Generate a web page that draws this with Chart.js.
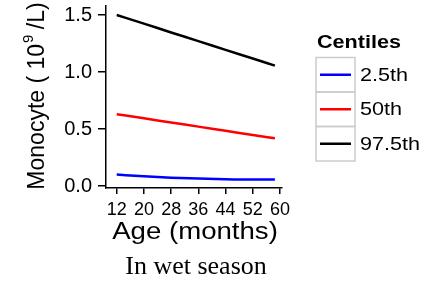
<!DOCTYPE html>
<html>
<head>
<meta charset="utf-8">
<script src="https://cdn.jsdelivr.net/npm/chart.js@4"></script>
<style>
  body { margin: 0; background: #fff; }
  #wrap { width: 441px; height: 294px; }
</style>
</head>
<body>
<div id="wrap"><canvas id="myChart" width="441" height="294"></canvas></div>
<script>
// values
const ages = [12, 20, 28, 36, 44, 52, 58.5];
const p025 = [0.10, 0.085, 0.073, 0.065, 0.059, 0.056, 0.056];
const p50 = [0.63, 0.594, 0.557, 0.521, 0.484, 0.448, 0.418];
const p975 = [1.50, 1.424, 1.347, 1.271, 1.194, 1.118, 1.056];
const seriesNames = ['2.5th', '50th', '97.5th'];
const seriesColors = ['#0000ff', '#ff0000', '#000000'];
const xTicks = [12, 20, 28, 36, 44, 52, 60];
const yTicks = [0, 0.5, 1, 1.5];

const SANS = '"Liberation Sans", Arial, sans-serif';
const toPts = (vals) => vals.map((v, i) => ({ x: ages[i], y: v }));

// stretched text helper (source picture is a bit wide)
function wideText(ctx, txt, x, y, font, align, sx) {
    ctx.save();
    ctx.font = font;
    ctx.textBaseline = 'middle';
    const w = ctx.measureText(txt).width * sx;
    let left = x;
    if (align === 'center') left = x - w / 2;
    ctx.translate(left, y);
    ctx.scale(sx, 1);
    ctx.textAlign = 'left';
    ctx.fillText(txt, 0, 0);
    ctx.restore();
}

const decor = {
    id: 'decor',
    afterDraw(chart) {
        const ctx = chart.ctx;
        ctx.save();
        ctx.fillStyle = '#000';
        // y title with superscript
        ctx.save();
        ctx.translate(38, 96);
        ctx.rotate(-Math.PI / 2);
        ctx.textBaseline = 'middle';
        const f = '23px ' + SANS, fs = '15px ' + SANS;
        const p1 = 'Monocyte ( 10', p2 = '9', p3 = ' /L)';
        ctx.font = f; const w1 = ctx.measureText(p1).width, w3 = ctx.measureText(p3).width;
        ctx.font = fs; const w2 = ctx.measureText(p2).width;
        let x0 = -(w1 + w2 + w3) / 2;
        ctx.font = f; ctx.fillText(p1, x0, 0);
        ctx.font = fs; ctx.fillText(p2, x0 + w1 + 1, -9);
        ctx.font = f; ctx.fillText(p3, x0 + w1 + w2, 0);
        ctx.restore();

        // x title and caption
        wideText(ctx, 'Age (months)', 195, 233, '23px ' + SANS, 'center', 1.2);
        ctx.font = '26px "Liberation Serif", "Times New Roman", serif';
        ctx.textAlign = 'center';
        ctx.textBaseline = 'middle';
        ctx.fillText('In wet season', 196, 267);

        // legend
        wideText(ctx, 'Centiles', 317, 43, 'bold 18px ' + SANS, 'left', 1.2);
        const bx = 316, bw = 39, by = 57.5, bh = 34.5;
        seriesNames.forEach((nm, i) => {
            const y = by + i * bh;
            ctx.strokeStyle = '#cccccc';
            ctx.lineWidth = 1.5;
            ctx.strokeRect(bx, y, bw, bh);
            ctx.strokeStyle = seriesColors[i];
            ctx.lineWidth = 2.5;
            ctx.beginPath();
            ctx.moveTo(bx + 4, y + bh / 2);
            ctx.lineTo(bx + bw - 4, y + bh / 2);
            ctx.stroke();
            ctx.fillStyle = '#000';
            wideText(ctx, nm, 360, y + bh / 2 + 1, '18px ' + SANS, 'left', 1.2);
        });
        ctx.restore();
    }
};

new Chart(document.getElementById('myChart'), {
    type: 'line',
    data: {
        datasets: [p025, p50, p975].map((vals, i) => ({
            label: seriesNames[i],
            data: toPts(vals),
            borderColor: seriesColors[i],
            borderWidth: 2.5,
            pointRadius: 0,
            cubicInterpolationMode: 'monotone',
            fill: false
        }))
    },
    options: {
        responsive: false,
        animation: false,
        layout: { padding: { left: 0, right: 159.5, top: 6, bottom: 0 } },
        plugins: { legend: { display: false }, tooltip: { enabled: false } },
        scales: {
            x: {
                type: 'linear', min: 8.85, max: 60.44,
                afterBuildTicks: (s) => { s.ticks = xTicks.map(v => ({ value: v })); },
                afterFit: (s) => { s.height = 106; s.paddingLeft = 0; s.paddingRight = 0; },
                border: { display: true, color: '#000', width: 1.5 },
                grid: { drawOnChartArea: false, drawTicks: true, tickLength: 6, color: '#000', lineWidth: 1.5 },
                ticks: { color: '#000', font: { family: SANS, size: 18 }, padding: 5, maxRotation: 0, autoSkip: false,
                         callback: (v) => String(v) }
            },
            y: {
                min: -0.0175, max: 1.579,
                afterBuildTicks: (s) => { s.ticks = yTicks.map(v => ({ value: v })); },
                afterFit: (s) => { s.width = 106; s.paddingTop = 0; s.paddingBottom = 0; },
                border: { display: true, color: '#000', width: 1.5 },
                grid: { drawOnChartArea: false, drawTicks: true, tickLength: 8, color: '#000', lineWidth: 1.5 },
                ticks: { color: '#000', font: { family: SANS, size: 20 }, padding: 6,
                         callback: (v) => Number(v).toFixed(1) }
            }
        }
    },
    plugins: [decor]
});
</script>
</body>
</html>
